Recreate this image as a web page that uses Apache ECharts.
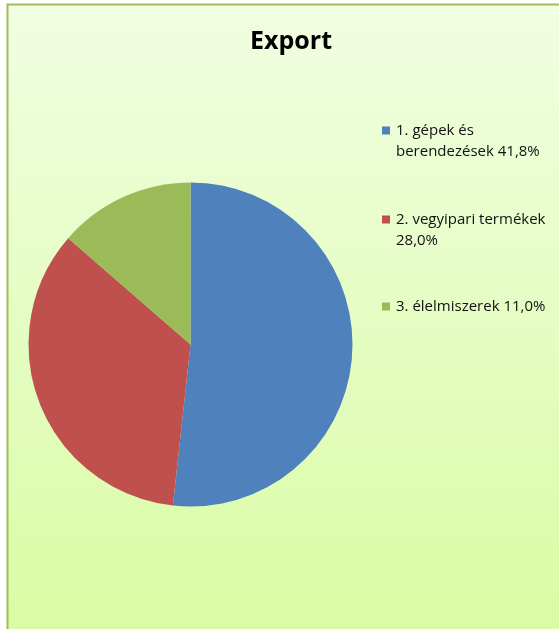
<!DOCTYPE html>
<html>
<head>
<meta charset="utf-8">
<script src="https://cdn.jsdelivr.net/npm/echarts@6/dist/echarts.min.js"></script>
<style>
html,body{margin:0;padding:0;background:#fff;}
#chart{width:559px;height:629px;}
</style>
</head>
<body>
<div id="chart"></div>
<script>
var title = 'Export';
var categories = ['1. gépek és berendezések', '2. vegyipari termékek', '3. élelmiszerek'];
var values = [41.8, 28.0, 11.0];
// legend label lines (text wrapping as in the reference)
var legendLines = [
  ['1. gépek és', 'berendezések'],
  ['2. vegyipari termékek'],
  ['3. élelmiszerek']
];
var colors = ['#4f81bd', '#c0504d', '#9bbb59'];

function pct(v) { return v.toFixed(1).replace('.', ',') + '%'; }

function legendText(i) {
  var lines = legendLines[i].slice();
  var last = lines.length - 1;
  if (i === 1) { lines.push(pct(values[i])); }
  else { lines[last] = lines[last] + ' ' + pct(values[i]); }
  if (lines.length === 2) { lines.unshift(' '); }
  return lines.join('\n');
}

var legendTops = [99, 188, 296];
var legends = categories.map(function (c, i) {
  return {
    data: [c],
    orient: 'vertical',
    left: 382,
    top: legendTops[i],
    padding: 0,
    itemWidth: 8,
    itemHeight: 8,
    icon: 'rect',
    selectedMode: false,
    formatter: function () { return legendText(i); },
    textStyle: {
      fontFamily: 'Open Sans',
      fontSize: 15,
      lineHeight: 21,
      color: '#111',
      padding: [0, 0, 0, 1]
    }
  };
});

var chart = echarts.init(document.getElementById('chart'));
chart.setOption({
  backgroundColor: '#ffffff',
  animation: false,
  color: colors,
  graphic: [{
    type: 'rect',
    z: -10,
    silent: true,
    shape: { x: 7.5, y: 4.5, width: 560, height: 630 },
    style: {
      fill: new echarts.graphic.LinearGradient(0, 0, 0, 1, [
        { offset: 0, color: '#f1fee2' },
        { offset: 1, color: '#d9fca4' }
      ]),
      stroke: '#9dbd5c',
      lineWidth: 2
    }
  }],
  title: {
    text: title,
    left: 286,
    textAlign: 'center',
    top: 24,
    textStyle: {
      fontFamily: 'Open Sans',
      fontWeight: 'bold',
      fontSize: 25,
      color: '#000'
    }
  },
  legend: legends,
  series: [{
    type: 'pie',
    center: [190.5, 344.5],
    radius: 162,
    startAngle: 90,
    clockwise: true,
    label: { show: false },
    labelLine: { show: false },
    emphasis: { disabled: true },
    itemStyle: { borderWidth: 0 },
    data: categories.map(function (c, i) { return { name: c, value: values[i] }; })
  }]
});
</script>
</body>
</html>
